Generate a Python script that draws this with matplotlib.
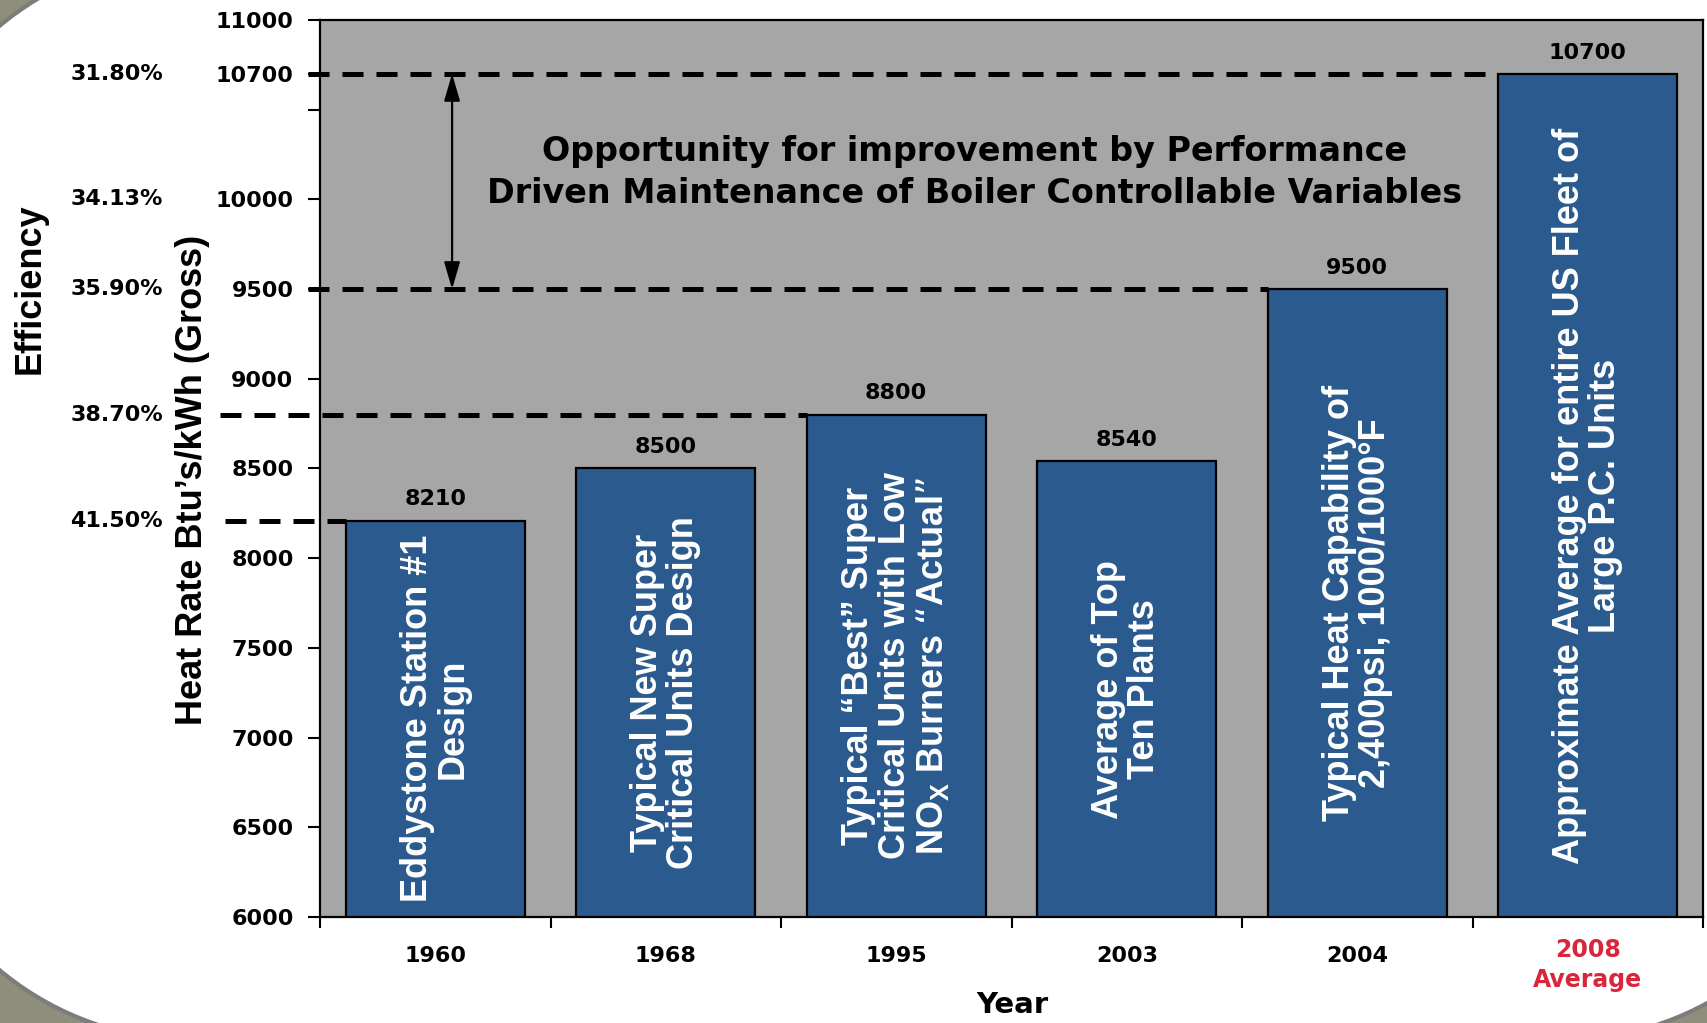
import numpy as np
import matplotlib
matplotlib.use('Agg')
import matplotlib.pyplot as plt
from matplotlib.patches import Polygon
from matplotlib.transforms import IdentityTransform
from matplotlib import font_manager

years = ['1960', '1968', '1995', '2003', '2004', '2008\nAverage']
heat_rate = [8210, 8500, 8800, 8540, 9500, 10700]
bar_text = [
    'Eddystone Station #1\nDesign',
    'Typical New Super\nCritical Units Design',
    'Typical \u201cBest\u201d Super\nCritical Units with Low\nNO$_\\mathregular{X}$ Burners \u201cActual\u201d',
    'Average of Top\nTen Plants',
    'Typical Heat Capability of\n2,400psi, 1000/1000\u00b0F',
    'Approximate Average for entire US Fleet of\nLarge P.C. Units',
]
eff_levels = [10700, 10000, 9500, 8800, 8210]
eff_labels = ['31.80%', '34.13%', '35.90%', '38.70%', '41.50%']
yticks = [6000, 6500, 7000, 7500, 8000, 8500, 9000, 9500, 10000, 10500, 10700, 11000]
ytick_labels = ['6000', '6500', '7000', '7500', '8000', '8500', '9000', '9500',
                '10000', '', '10700', '11000']
# reference lines: level, bar index where the line stops
ref_levels = [10700, 9500, 8800, 8210]
ref_stop_bar = [5, 4, 2, 0]
note = ('Opportunity for improvement by Performance\n'
        'Driven Maintenance of Boiler Controllable Variables')

bar_color = '#2b5a8e'
bg_color = '#a6a6a6'
red = '#d8263c'

names = {f.name for f in font_manager.fontManager.ttflist}
if 'Liberation Sans Narrow' in names:
    vfont, vscale = 'Liberation Sans Narrow', 1.0
else:
    vfont, vscale = 'Liberation Sans', 0.84


def rounded_rect(x0, y0, x1, y1, r, n=40):
    pts = []
    corners = [(x1 - r, y1 - r, 0), (x0 + r, y1 - r, 90),
               (x0 + r, y0 + r, 180), (x1 - r, y0 + r, 270)]
    for cx, cy, a in corners:
        t = np.radians(np.linspace(a, a + 90, n))
        pts += list(zip(cx + r * np.cos(t), cy + r * np.sin(t)))
    return pts


fig = plt.figure(figsize=(17.07, 10.23), dpi=100, facecolor='#8f8d7c')

# slide frame: white rounded panel on a grey background (pixel coords)
panel = Polygon(rounded_rect(-108, -17, 1863, 1067, 300), closed=True,
                transform=IdentityTransform(), facecolor='white',
                edgecolor='#7c7c7c', lw=3, zorder=-10)
fig.patches.append(panel)

ax = fig.add_axes([320 / 1707, 106 / 1023, 1383 / 1707, 897 / 1023])
ax.set_facecolor(bg_color)

x = list(range(len(years)))
width = 0.775
bars = ax.bar(x, [v - 6000 for v in heat_rate], bottom=6000, width=width,
              color=bar_color, edgecolor='black', linewidth=1.6, zorder=3)

for xi, v, txt in zip(x, heat_rate, bar_text):
    ax.annotate(str(v), (xi, v), xytext=(0, 11), textcoords='offset points',
                ha='center', va='baseline', fontsize=16, fontweight='bold')
    ax.text(xi, (6000 + v) / 2, txt, rotation=90, ha='center', va='center',
            multialignment='center', color='white', fontsize=31 * vscale,
            fontweight='bold', family=vfont, linespacing=1.05, zorder=4)

# dashed reference lines
starts = [-0.552, -0.552, -0.934, -0.912]
for lvl, bi, st in zip(ref_levels, ref_stop_bar, starts):
    ax.plot([st, bi - width / 2], [lvl, lvl], color='black', lw=3.6,
            linestyle=(0, (4.2, 2.6)), clip_on=False, zorder=2)

for lvl, lab in zip(eff_levels, eff_labels):
    ax.text(-0.1135, lvl, lab, transform=ax.get_yaxis_transform(), ha='right',
            va='center', fontsize=16, fontweight='bold', clip_on=False)

ax.annotate('', xy=(0.073, 10700), xytext=(0.073, 9500),
            arrowprops=dict(arrowstyle='<|-|>,head_length=0.75,head_width=0.22',
                            color='black', lw=1.6, mutation_scale=22,
                            shrinkA=0, shrinkB=0), zorder=5)
ax.text(2.34, 10150, note, ha='center', va='center', fontsize=24,
        fontweight='bold', linespacing=1.35)

ax.set_xlim(-0.5, len(years) - 0.5)
ax.set_ylim(6000, 11000)
ax.set_yticks(yticks)
ax.set_yticklabels(ytick_labels, fontsize=16, fontweight='bold')
ax.tick_params(axis='y', direction='out', length=9, width=1.5, pad=10)

ax.set_xticks([i - 0.5 for i in range(len(years) + 1)])
ax.set_xticklabels([])
ax.tick_params(axis='x', which='major', direction='out', length=8, width=1.5)
ax.set_xticks(x, minor=True)
ax.set_xticklabels(years[:-1] + [''], minor=True, fontsize=16, fontweight='bold')
ax.tick_params(axis='x', which='minor', length=0, pad=21)
# last category label is red and sits a little higher
ax.annotate(years[-1], xy=(x[-1], 0), xycoords=('data', 'axes fraction'),
            xytext=(0, -15), textcoords='offset points', ha='center', va='top',
            color=red, fontsize=17, fontweight='bold', linespacing=1.3,
            annotation_clip=False)

for s in ax.spines.values():
    s.set_linewidth(1.6)
    s.set_color('black')

fig.text(1012 / 1707, 1 - 1005 / 1023, 'Year', ha='center', va='center',
         fontsize=21, fontweight='bold')
fig.text(192 / 1707, 1 - 480 / 1023, "Heat Rate Btu\u2019s/kWh (Gross)", rotation=90,
         ha='center', va='center', fontsize=31 * vscale, fontweight='bold', family=vfont)
fig.text(30 / 1707, 1 - 289 / 1023, 'Efficiency', rotation=90, ha='center',
         va='center', fontsize=31 * vscale, fontweight='bold', family=vfont)

fig.savefig('out.png', dpi=100, facecolor=fig.get_facecolor())
